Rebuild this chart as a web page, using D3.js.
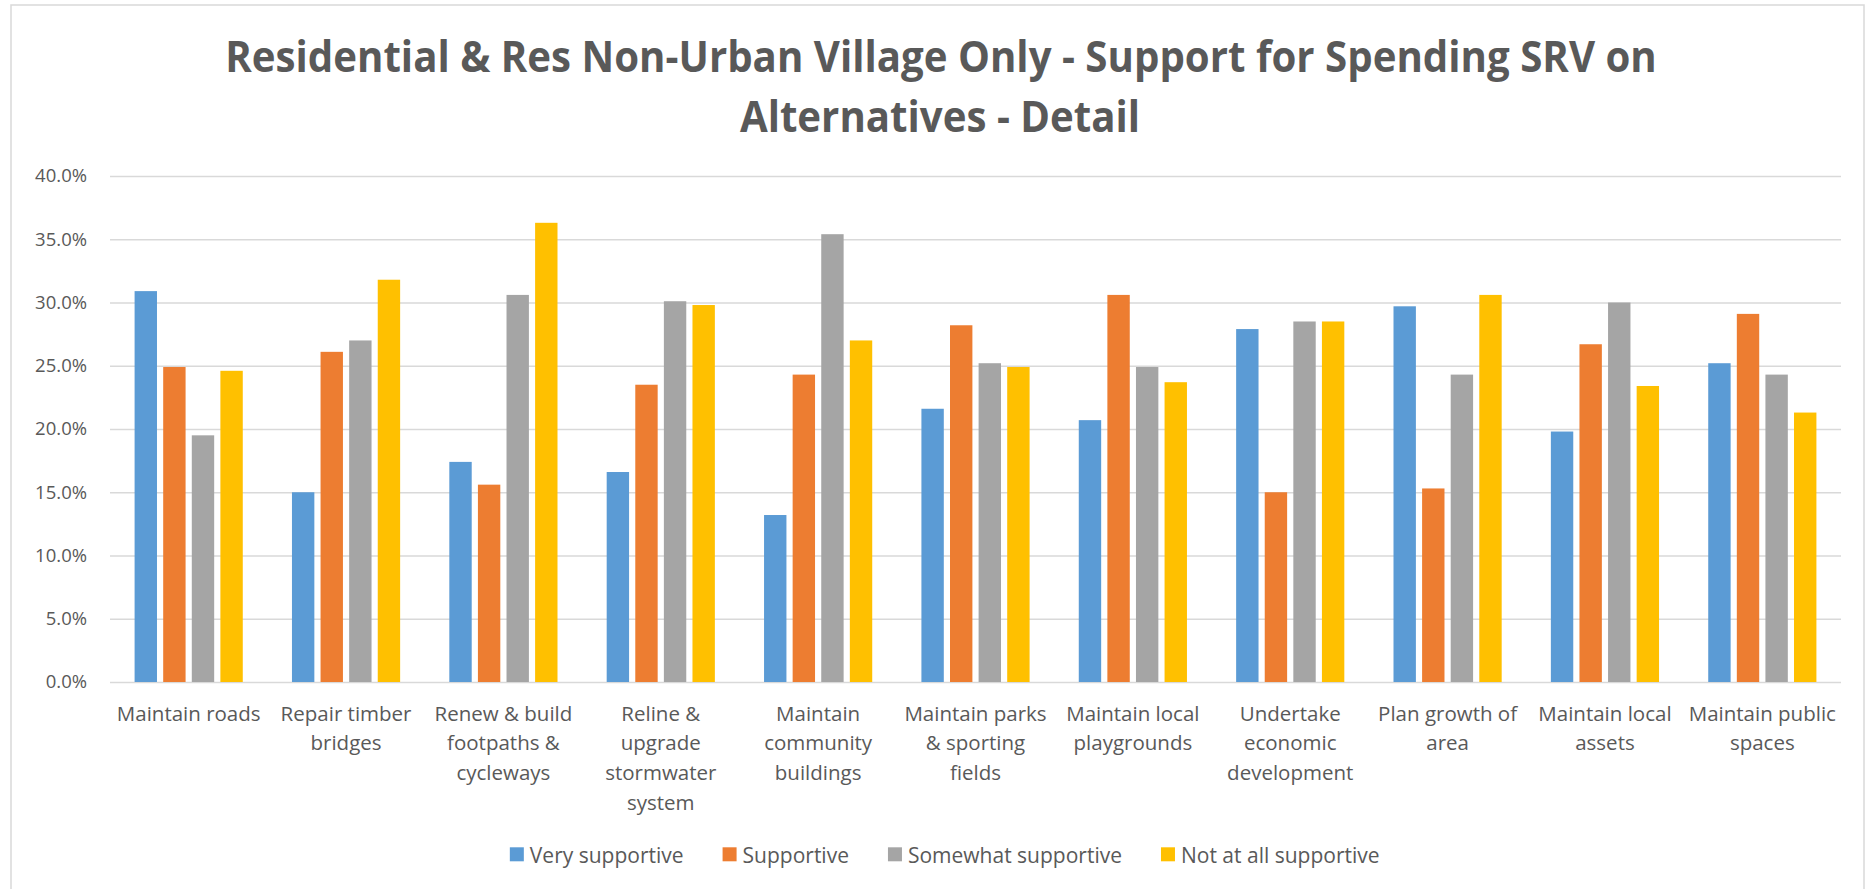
<!DOCTYPE html>
<html>
<head>
<meta charset="utf-8">
<script src="https://cdn.jsdelivr.net/npm/d3@7"></script>
<style>
  body { margin: 0; background: #fff; }
  svg { display: block; }
  text { font-family: "Open Sans", "Noto Sans", sans-serif; fill: #595959; }
</style>
</head>
<body>
<svg id="chart" width="1867" height="889"></svg>
<script>
// Categories (each entry is the wrapped label lines)
const categories = [
  ["Maintain roads"],
  ["Repair timber", "bridges"],
  ["Renew & build", "footpaths &", "cycleways"],
  ["Reline &", "upgrade", "stormwater", "system"],
  ["Maintain", "community", "buildings"],
  ["Maintain parks", "& sporting", "fields"],
  ["Maintain local", "playgrounds"],
  ["Undertake", "economic", "development"],
  ["Plan growth of", "area"],
  ["Maintain local", "assets"],
  ["Maintain public", "spaces"]
];

const seriesNames = ["Very supportive", "Supportive", "Somewhat supportive", "Not at all supportive"];
const seriesColors = ["#5B9BD5", "#ED7D31", "#A5A5A5", "#FFC000"];

// Percent of respondents per category
const veryValues       = [30.9, 15.0, 17.4, 16.6, 13.2, 21.6, 20.7, 27.9, 29.7, 19.8, 25.2];
const supportiveValues = [24.9, 26.1, 15.6, 23.5, 24.3, 28.2, 30.6, 15.0, 15.3, 26.7, 29.1];
const somewhatValues   = [19.5, 27.0, 30.6, 30.1, 35.4, 25.2, 24.9, 28.5, 24.3, 30.0, 24.3];
const notAtAllValues   = [24.6, 31.8, 36.3, 29.8, 27.0, 24.9, 23.7, 28.5, 30.6, 23.4, 21.3];

const yTicks = [0, 5, 10, 15, 20, 25, 30, 35, 40];

const titleLines = [
  "Residential & Res Non-Urban Village Only - Support for Spending SRV on",
  "Alternatives - Detail"
];

const seriesValues = [veryValues, supportiveValues, somewhatValues, notAtAllValues];
const catKeys = categories.map(c => c.join(" "));

const svg = d3.select("#chart");

// Chart frame
svg.append("rect")
  .attr("x", 11).attr("y", 5)
  .attr("width", 1853).attr("height", 900)
  .attr("fill", "none")
  .attr("stroke", "#d9d9d9")
  .attr("stroke-width", 1.5);

const plot = { left: 110, right: 1841, top: 176, bottom: 682 };

const x0 = d3.scaleBand()
  .domain(catKeys)
  .range([plot.left, plot.right])
  .paddingInner(0)
  .paddingOuter(0);

const x1 = d3.scaleBand()
  .domain(seriesNames)
  .range([0, x0.bandwidth()])
  .paddingInner(0.217)
  .paddingOuter(0.86);

const y = d3.scaleLinear()
  .domain([0, 40])
  .range([plot.bottom, plot.top]);

// Y axis with gridlines
const yAxis = svg.append("g")
  .attr("transform", `translate(${plot.left},0)`)
  .call(d3.axisLeft(y)
    .tickValues(yTicks)
    .tickFormat(d => d.toFixed(1) + "%")
    .tickSize(-(plot.right - plot.left))
    .tickPadding(23));
yAxis.select(".domain").remove();
yAxis.selectAll(".tick line")
  .attr("stroke", "#d9d9d9")
  .attr("stroke-width", 1.6);
yAxis.selectAll(".tick text")
  .style("font-size", "18.5px")
  .style("font-family", "'Open Sans', sans-serif")
  .attr("fill", "#595959");

// Bars
const groups = svg.append("g")
  .selectAll("g")
  .data(catKeys)
  .join("g")
  .attr("transform", d => `translate(${x0(d)},0)`);

groups.selectAll("rect")
  .data((d, i) => seriesNames.map((s, j) => ({ series: s, value: seriesValues[j][i], color: seriesColors[j] })))
  .join("rect")
  .attr("x", d => x1(d.series))
  .attr("width", x1.bandwidth())
  .attr("y", d => y(d.value))
  .attr("height", d => y(0) - y(d.value))
  .attr("fill", d => d.color);

// X axis with wrapped category labels
const xAxis = svg.append("g")
  .attr("transform", `translate(0,${plot.bottom})`)
  .call(d3.axisBottom(x0).tickSize(0));
xAxis.select(".domain").remove();
xAxis.selectAll(".tick text")
  .text("")
  .attr("y", 0)
  .attr("dy", null)
  .style("font-size", "20.5px")
  .style("font-family", "'Open Sans', sans-serif")
  .attr("fill", "#595959")
  .each(function(d, i) {
    const t = d3.select(this);
    categories[i].forEach((line, k) => {
      t.append("tspan")
        .attr("x", 0)
        .attr("y", 38.7 + k * 29.6)
        .text(line);
    });
  });

// Title, horizontally condensed to the heading width
const titleG = svg.append("g");
const titleTexts = titleLines.map((line, i) =>
  titleG.append("text")
    .attr("text-anchor", "middle")
    .attr("x", 0).attr("y", 0)
    .style("font-size", "43px")
    .style("font-weight", 700)
    .text(line));
const natural = titleTexts[0].node().getComputedTextLength();
const squeeze = 1432 / natural;
titleTexts[0].attr("transform", `translate(941,72.3) scale(${squeeze},1)`);
titleTexts[1].attr("transform", `translate(940,131.7) scale(${squeeze},1)`);

// Legend
const legend = svg.append("g");
const legendItems = seriesNames.map((name, i) => {
  const g = legend.append("g");
  g.append("rect")
    .attr("width", 14).attr("height", 14)
    .attr("y", 847.3)
    .attr("fill", seriesColors[i]);
  const t = g.append("text")
    .attr("x", 20)
    .attr("y", 863)
    .style("font-size", "21px")
    .text(name);
  return { g, w: 20 + t.node().getComputedTextLength() };
});
const legendGap = 39;
const legendTotal = d3.sum(legendItems, d => d.w) + legendGap * (legendItems.length - 1);
let lx = 944.7 - legendTotal / 2;
legendItems.forEach(item => {
  item.g.attr("transform", `translate(${lx},0)`);
  lx += item.w + legendGap;
});
</script>
</body>
</html>
